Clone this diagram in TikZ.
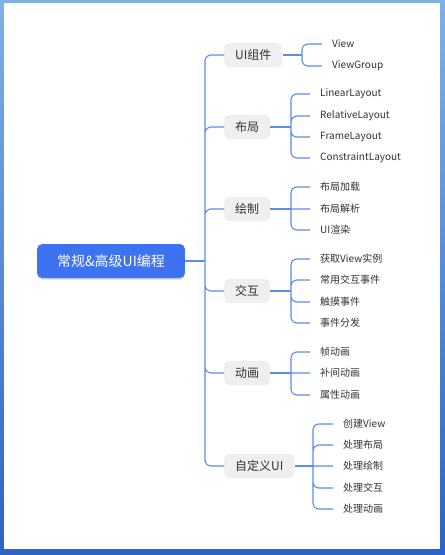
\documentclass[tikz,border=0pt]{standalone}
\usepackage{fontspec}
\setmainfont{Noto Sans CJK SC}
\usepackage{xcolor}
\usetikzlibrary{positioning,shadows}
\tikzset{>=latex}
\definecolor{rootblue}{HTML}{3D72F0}
\definecolor{linkblue}{HTML}{5C8DE8}
\definecolor{topicgray}{HTML}{EFEFEF}
\definecolor{textgray}{HTML}{333333}
\definecolor{frametop}{HTML}{7DB2E2}
\definecolor{framebot}{HTML}{2C63C6}
\tikzset{
  root/.style={rectangle,rounded corners=5pt,fill=rootblue,text=white,
    font=\fontsize{14}{16}\selectfont,minimum height=34pt,inner xsep=20pt,
    drop shadow={shadow xshift=0pt,shadow yshift=-1.5pt,opacity=0.25,fill=rootblue}},
  topic/.style={rectangle,rounded corners=5pt,fill=topicgray,text=textgray,anchor=west,
    font=\fontsize{12}{14}\selectfont,minimum height=24pt,inner xsep=11pt},
  leaf/.style={anchor=west,text=textgray,font=\fontsize{10}{12}\selectfont,
    inner xsep=10pt,inner ysep=2pt},
  branch/.style={draw=linkblue,line width=1.1pt,rounded corners=6pt},
}

\begin{document}
\begin{tikzpicture}[x=1pt,y=-1pt]
    \useasboundingbox (0,0) rectangle (445,555);
    \fill [top color=frametop,bottom color=framebot] (0,0) rectangle (445,555);
    \fill [white] (4,3) rectangle (440,549);

    \node at (111,261) [root] (root) {常规\&高级UI编程};

    \node at (224,55) [topic] (ui) {UI组件};
    \node at (224,127) [topic] (layout) {布局};
    \node at (224,209) [topic] (paint) {绘制};
    \node at (224,291) [topic] (interact) {交互};
    \node at (224,373) [topic] (anim) {动画};
    \node at (224,466) [topic] (custom) {自定义UI};

    \node at (322,44) [leaf] (view) {View};
    \node at (322,66) [leaf] (vgroup) {ViewGroup};

    \node at (310,94) [leaf] (linear) {LinearLayout};
    \node at (310,116) [leaf] (relative) {RelativeLayout};
    \node at (310,137) [leaf] (frame) {FrameLayout};
    \node at (310,158) [leaf] (constraint) {ConstraintLayout};

    \node at (310,187) [leaf] (load) {布局加载};
    \node at (310,209) [leaf] (parse) {布局解析};
    \node at (310,230) [leaf] (render) {UI渲染};

    \node at (310,259) [leaf] (getview) {获取View实例};
    \node at (310,280) [leaf] (events) {常用交互事件};
    \node at (310,302) [leaf] (touch) {触摸事件};
    \node at (310,323) [leaf] (dispatch) {事件分发};

    \node at (310,352) [leaf] (frameanim) {帧动画};
    \node at (310,373) [leaf] (tween) {补间动画};
    \node at (310,395) [leaf] (propanim) {属性动画};

    \node at (333,424) [leaf] (create) {创建View};
    \node at (333,445) [leaf] (measure) {处理布局};
    \node at (333,466) [leaf] (ondraw) {处理绘制};
    \node at (333,488) [leaf] (handle) {处理交互};
    \node at (333,509) [leaf] (animate) {处理动画};

    % trunk from the root to the topics
    \coordinate (trunk) at (205,261);
    \draw [branch] (root.east) -- (trunk);
    \draw [branch] (trunk) |- (ui.west) (trunk) |- (layout.west)
      (trunk) |- (paint.west) (trunk) |- (interact.west)
      (trunk) |- (anim.west) (trunk) |- (custom.west);

    % topics to their leaves
    \coordinate (ui_b) at (302,55);
    \draw [branch] (ui.east) -- (ui_b);
    \draw [branch] (ui_b) |- (view.west) (ui_b) |- (vgroup.west);

    \coordinate (layout_b) at (291,127);
    \draw [branch] (layout.east) -- (layout_b);
    \draw [branch] (layout_b) |- (linear.west) (layout_b) |- (relative.west)
      (layout_b) |- (frame.west) (layout_b) |- (constraint.west);

    \coordinate (paint_b) at (291,209);
    \draw [branch] (paint.east) -- (paint_b);
    \draw [branch] (paint_b) |- (load.west) (paint_b) -- (parse.west)
      (paint_b) |- (render.west);

    \coordinate (interact_b) at (291,291);
    \draw [branch] (interact.east) -- (interact_b);
    \draw [branch] (interact_b) |- (getview.west) (interact_b) |- (events.west)
      (interact_b) |- (touch.west) (interact_b) |- (dispatch.west);

    \coordinate (anim_b) at (291,373);
    \draw [branch] (anim.east) -- (anim_b);
    \draw [branch] (anim_b) |- (frameanim.west) (anim_b) -- (tween.west)
      (anim_b) |- (propanim.west);

    \coordinate (custom_b) at (313,466);
    \draw [branch] (custom.east) -- (custom_b);
    \draw [branch] (custom_b) |- (create.west) (custom_b) |- (measure.west)
      (custom_b) -- (ondraw.west) (custom_b) |- (handle.west)
      (custom_b) |- (animate.west);
\end{tikzpicture}
\end{document}
